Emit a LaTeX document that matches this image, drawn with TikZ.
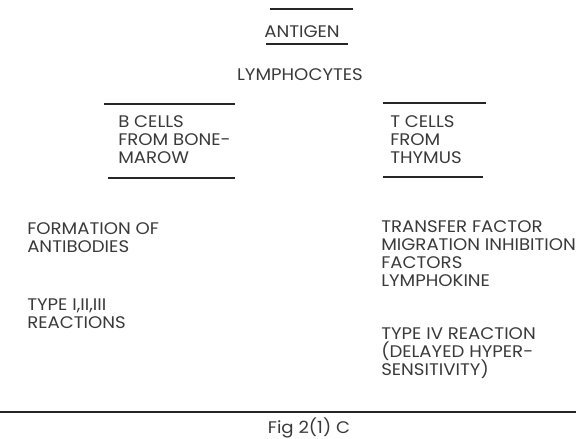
\documentclass[tikz,border=0pt]{standalone}
\usepackage{fontspec}
\setmainfont{Poppins}[FakeStretch=1.08]
\definecolor{inkgray}{HTML}{3A3A3A}
\definecolor{rulegray}{HTML}{262626}
\tikzset{lbl/.style={inner sep=0pt,align=left,text=inkgray,font={\fontsize{12.6}{13.5}\selectfont\lineskiplimit=-6pt}},
  bar/.style={rulegray,line width=1.3pt}}

\begin{document}
\begin{tikzpicture}[x=0.75pt,y=-0.75pt]
\useasboundingbox (0,0) rectangle (576,439);
% heading
\node[lbl,anchor=north] (antigen) at (302,25) {ANTIGEN};
\node[lbl,anchor=north] (lympho) at (300,68) {LYMPHOCYTES};
\draw[bar] (270,9) -- (353,9); \draw[bar] (266,44) -- (348,44);
% the two cell lines
\node[lbl,anchor=north west] (bcells) at (118,115) {B CELLS\\FROM BONE-\\MAROW};
\node[lbl,anchor=north west] (tcells) at (390,115) {T CELLS\\FROM\\THYMUS};
\draw[bar] (104,104) -- (235,104); \draw[bar] (108,178) -- (235,178);
\draw[bar] (383,103) -- (486,103); \draw[bar] (383,177) -- (483,177);
% what each one does
\node[lbl,anchor=north west] (antibody) at (27,222) {FORMATION OF\\ANTIBODIES};
\node[lbl,anchor=north west] (typeabc) at (27,299) {TYPE I,II,III\\REACTIONS};
\node[lbl,anchor=north west] (transfer) at (381,220) {TRANSFER FACTOR\\MIGRATION INHIBITION\\FACTORS\\LYMPHOKINE};
\node[lbl,anchor=north west] (typefour) at (381,327) {TYPE IV REACTION\\(DELAYED HYPER-\\SENSITIVITY)};
% caption
\draw[bar] (0,412) -- (576,412);
\node[lbl,anchor=base] (fig) at (309,433) {Fig 2(1) C};
\end{tikzpicture}
\end{document}
